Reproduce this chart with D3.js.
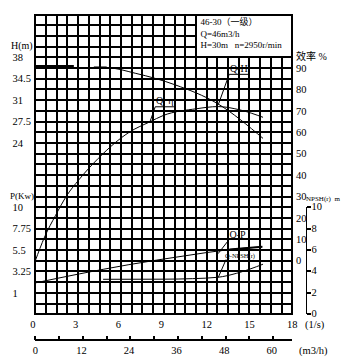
<!DOCTYPE html>
<html><head><meta charset="utf-8">
<script src="https://cdn.jsdelivr.net/npm/d3@7"></script>
<style>
html,body{margin:0;padding:0;background:#fff;}
text{font-family:"Liberation Serif","Noto Sans CJK SC",serif;fill:#000;white-space:pre;}
</style></head>
<body><svg id="c" width="346" height="358"></svg>
<script>
// ---- data ----
const qhFlatQ = [0, 2.7];
const qhFlatH = [36.55, 36.55];
const qhQ = [4.1, 5.0, 7.0, 9.8, 12.73, 15.95];
const qhH = [36.3, 36.3, 35.4, 33.5, 30.48, 24.75];
const effQ = [0, 0.65, 1.42, 2.21, 3.05, 4.41, 6.62, 8.03, 8.95, 11.3, 12.8, 14.3, 15.95];
const effV = [0, 11.1, 21.2, 30.5, 37.8, 47.8, 60.2, 64.9, 67.8, 71.0, 72.0, 70.5, 67.0];
const qpQ = [0, 3.1, 6.5, 10.5, 13.6, 15.9];
const qpP = [2.05, 3.0, 3.95, 4.9, 5.55, 5.84];
const npQ = [4.75, 9, 11, 12.8, 14.1, 15.95];
const npN = [3.27, 3.28, 3.33, 3.46, 3.83, 4.68];

const hTicks = [38, 34.5, 31, 27.5, 24];
const pTicks = [10, 7.75, 5.5, 3.25, 1];
const effTicks = [90, 80, 70, 60, 50, 40, 30, 20, 10, 0];
const npshTicks = [0, 2, 4, 6, 8, 10];
const qLsTicks = [0, 3, 6, 9, 12, 15, 18];
const qM3Ticks = [0, 6, 12, 18, 24, 30, 36, 42, 48, 54, 60];
const qM3Labels = [0, 12, 24, 36, 48, 60];
const legendLines = ["46-30（一级）", "Q=46m3/h", "H=30m   n=2950r/min"];

// ---- scales ----
const X0 = 35.3, X1 = 292.3, Y0 = 14.5, Y1 = 314.3;
const x = d3.scaleLinear().domain([0, 18]).range([X0, X1]);
const xm = d3.scaleLinear().domain([0, 18 * 3.6]).range([X0, X1]);
const yH = d3.scaleLinear().domain([-4, 45]).range([Y1, Y0]);
const yE = d3.scaleLinear().domain([-25, 115]).range([Y1, Y0]);
const yP = d3.scaleLinear().domain([-1.25, 30.25]).range([Y1, Y0]);
const yN = d3.scaleLinear().domain([0, 28]).range([Y1, Y0]);

const svg = d3.select("#c");

// ---- grid ----
const g = svg.append("g").attr("stroke", "#000").attr("stroke-width", 2).attr("shape-rendering", "crispEdges");
g.selectAll(".v").data(d3.range(0, 24.5, 1)).join("line")
  .attr("x1", d => Math.round(x(d * 0.75))).attr("x2", d => Math.round(x(d * 0.75)))
  .attr("y1", Y0).attr("y2", Y1);
g.selectAll(".h").data(d3.range(0, 28.5, 1)).join("line")
  .attr("y1", d => Math.round(yN(d))).attr("y2", d => Math.round(yN(d)))
  .attr("x1", X0 - 1).attr("x2", X1 + 1);

// legend box
svg.append("rect").attr("x", Math.round(x(11.25))).attr("y", Math.round(yN(28)))
  .attr("width", Math.round(x(18)) - Math.round(x(11.25))).attr("height", Math.round(yN(24)) - Math.round(yN(28)))
  .attr("fill", "#fff").attr("stroke", "#000").attr("stroke-width", 2).attr("shape-rendering", "crispEdges");
svg.append("g").selectAll("text").data(legendLines).join("text")
  .attr("x", x(11.25) + 4.5).attr("y", (d, i) => 25 + i * 11.7)
  .attr("font-size", 9).text(d => d);

// ---- curves ----
const mk = (xs, ys, sy) => xs.map((q, i) => [x(q), sy(ys[i])]);
const line = d3.line().curve(d3.curveMonotoneX);
const curves = svg.append("g").attr("fill", "none").attr("stroke", "#000");
curves.append("path").attr("d", line(mk(qhFlatQ, qhFlatH, yH))).attr("stroke-width", 2.5);
curves.append("path").attr("d", line(mk(qhQ, qhH, yH))).attr("stroke-width", 1);
curves.append("path").attr("d", line(mk(qhQ.slice(0, 2), qhH.slice(0, 2), yH))).attr("stroke-width", 2.5);
curves.append("path").attr("d", line(mk(effQ, effV, yE))).attr("stroke-width", 1);
curves.append("path").attr("d", line(mk(qpQ, qpP, yP))).attr("stroke-width", 1);
curves.append("path").attr("d", line(mk(qpQ.slice(4), qpP.slice(4), yP))).attr("stroke-width", 2);
curves.append("path").attr("d", line(mk(npQ, npN, yN))).attr("stroke-width", 1);

// ---- curve labels ----
const ann = svg.append("g").attr("fill", "none").attr("stroke", "#000").attr("stroke-width", 1);
// Q-H
ann.append("polyline").attr("points", [[x(12.82), yH(30.28)], [x(13.58), yH(35.22)], [x(14.9), yH(35.22)]].join(" "));
svg.append("text").attr("x", x(13.63)).attr("y", yH(35.6)).attr("font-size", 10).text("Q-H");
// Q-eta
ann.append("polyline").attr("points", [[x(8.03), yE(64.9)], [x(8.4), yE(71.9)], [x(9.71), yE(71.9)]].join(" "));
svg.append("text").attr("x", x(8.45)).attr("y", yE(73.2)).attr("font-size", 10).text("Q  η");
// Q-P
ann.append("line").attr("x1", x(12.8)).attr("y1", yP(5.12)).attr("x2", x(13.6)).attr("y2", yP(6.65));
svg.append("text").attr("x", x(13.6)).attr("y", yP(6.8)).attr("font-size", 10).text("Q-P");
// Q-NPSH
ann.append("line").attr("x1", x(12.82)).attr("y1", yN(3.46)).attr("x2", x(13.36)).attr("y2", yN(5.12));
svg.append("text").attr("x", x(13.29)).attr("y", yN(5.26)).attr("font-size", 6.5).text("Q-NPSH(r)");

// ---- left axis labels ----
const lab = svg.append("g").attr("font-size", 10.5);
lab.append("text").attr("x", 11).attr("y", 49).attr("font-size", 10).text("H(m)");
lab.selectAll(".h").data(hTicks).join("text").attr("x", 12.5).attr("y", d => yH(d)).attr("dy", "0.35em").text(d => d);
lab.append("text").attr("x", 10).attr("y", 199).attr("font-size", 9).text("P(Kw)");
lab.selectAll(".p").data(pTicks).join("text").attr("x", 12.5).attr("y", d => yP(d)).attr("dy", "0.35em").text(d => d);

// ---- right efficiency labels ----
lab.append("text").attr("x", 296).attr("y", 60).attr("font-size", 10).text("效率 %");
lab.selectAll(".e").data(effTicks).join("text").attr("x", 296).attr("y", d => yE(d)).attr("dy", "0.35em").text(d => d);

// ---- NPSH axis ----
const ax = svg.append("g").attr("stroke", "#000").attr("stroke-width", 1.2).attr("shape-rendering", "crispEdges");
ax.append("line").attr("x1", 306.5).attr("x2", 306.5).attr("y1", yN(10)).attr("y2", yN(0));
ax.selectAll("line.t").data(npshTicks).join("line").attr("class", "t")
  .attr("x1", 306.5).attr("x2", 310.5).attr("y1", d => Math.round(yN(d))).attr("y2", d => Math.round(yN(d)));
lab.selectAll(".n").data(npshTicks).join("text").attr("x", 311.5).attr("y", d => yN(d) - 0.5).attr("dy", "0.32em").text(d => d);
lab.append("text").attr("x", 306).attr("y", 200.5).attr("font-size", 7).text("NPSH(r)  m");

// ---- bottom axes ----
lab.selectAll(".q").data(qLsTicks).join("text").attr("x", d => x(d) - (d < 10 ? 2.5 : 0)).attr("y", 324)
  .attr("dy", "0.35em").attr("text-anchor", "middle").text(d => d);
lab.append("text").attr("x", 305).attr("y", 324.5).attr("dy", "0.35em").text("(1/s)");

const bx = svg.append("g").attr("stroke", "#000").attr("stroke-width", 1.2).attr("shape-rendering", "crispEdges");
bx.append("line").attr("x1", X0).attr("x2", X1).attr("y1", 340).attr("y2", 340);
bx.selectAll("line.t").data(qM3Ticks).join("line").attr("class", "t")
  .attr("x1", d => Math.round(xm(d))).attr("x2", d => Math.round(xm(d))).attr("y1", 340).attr("y2", 335.5);
lab.selectAll(".m").data(qM3Labels).join("text").attr("x", d => xm(d) - (d < 10 ? 0 : 1.5)).attr("y", 350)
  .attr("dy", "0.35em").attr("text-anchor", "middle").text(d => d);
lab.append("text").attr("x", 299).attr("y", 350).attr("dy", "0.35em").text("(m3/h)");
</script></body></html>
